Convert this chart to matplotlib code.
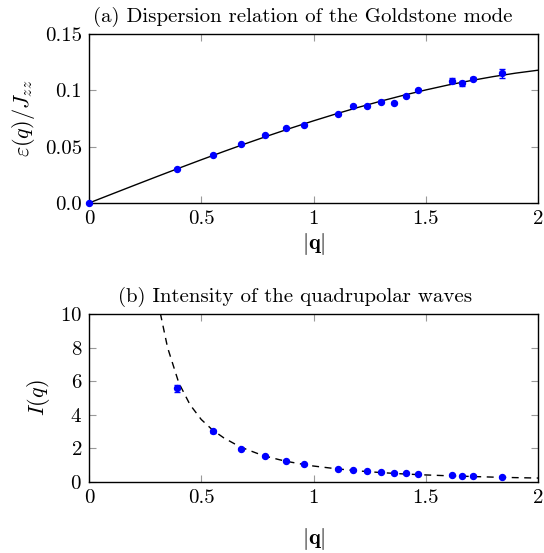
import matplotlib
matplotlib.use("Agg")
import matplotlib.pyplot as plt

plt.rcParams['font.family'] = 'serif'
plt.rcParams['font.serif'] = ['cmr10', 'DejaVu Serif']
plt.rcParams['mathtext.fontset'] = 'cm'
plt.rcParams['axes.unicode_minus'] = False
plt.rcParams['axes.formatter.use_mathtext'] = True

# measured momenta
q = [0.39, 0.554, 0.678, 0.782, 0.876, 0.959, 1.108, 1.176, 1.240, 1.300,
     1.357, 1.413, 1.467, 1.617, 1.663, 1.709, 1.840]

# (a) dispersion: data (first point at q=0)
q_eps = [0.0] + q
eps = [0.0, 0.0304, 0.0426, 0.0521, 0.0601, 0.0663, 0.0695, 0.0787, 0.0858,
       0.0864, 0.0899, 0.0888, 0.0950, 0.1003, 0.1086, 0.1062, 0.1103, 0.1151]
eps_err = [0.0, 0.0004, 0.0005, 0.0005, 0.0005, 0.0005, 0.0005, 0.0006, 0.0008,
           0.0008, 0.0015, 0.0006, 0.0010, 0.0008, 0.0020, 0.0022, 0.0015, 0.0040]

# (a) fitted dispersion curve
q_fit = [0.0, 0.1, 0.2, 0.3, 0.4, 0.5, 0.6, 0.7, 0.8, 0.9, 1.0,
         1.1, 1.2, 1.3, 1.4, 1.5, 1.6, 1.7, 1.8, 1.9, 2.0]
eps_fit = [0.0, 0.00779, 0.01556, 0.02326, 0.03087, 0.03836, 0.04569, 0.05285,
           0.05980, 0.06650, 0.07294, 0.07908, 0.08493, 0.09042, 0.09559,
           0.10035, 0.10476, 0.10863, 0.11218, 0.11526, 0.11787]

# (b) intensity
inten = [5.58, 3.02, 1.96, 1.54, 1.25, 1.05, 0.79, 0.71, 0.63, 0.59, 0.56,
         0.52, 0.48, 0.40, 0.38, 0.37, 0.32]
inten_err = [0.20, 0.08, 0.06, 0.04, 0.03, 0.03, 0.02, 0.02, 0.02, 0.02, 0.02,
             0.02, 0.02, 0.02, 0.02, 0.02, 0.02]

# (b) guide curve
q_guide = [0.30, 0.32, 0.35, 0.40, 0.45, 0.50, 0.55, 0.60, 0.65, 0.70, 0.75,
           0.80, 0.85, 0.90, 0.95, 1.0, 1.1, 1.2, 1.3, 1.4, 1.5, 1.6, 1.7,
           1.8, 1.9, 2.0]
i_guide = [11.5, 9.9, 8.0, 5.9, 4.6, 3.72, 3.10, 2.63, 2.26, 1.95, 1.70,
           1.49, 1.32, 1.18, 1.06, 0.95, 0.79, 0.66, 0.56, 0.48, 0.42, 0.37,
           0.33, 0.29, 0.26, 0.235]

fig = plt.figure(figsize=(5.44, 5.53), dpi=100)
ax1 = fig.add_axes([0.1636, 0.6329, 0.8254, 0.3056])
ax2 = fig.add_axes([0.1636, 0.1284, 0.8254, 0.3038])

blue = (0, 0, 1)
tick_kw = dict(direction='in', length=5, width=0.8, color='0.6',
               top=True, right=True, labelsize=15, labelcolor='black', pad=5)

# (a)
ax1.plot(q_fit, eps_fit, color='black', lw=1.0, zorder=2)
ax1.errorbar(q_eps, eps, yerr=eps_err, fmt='o', color=blue, ms=4.3,
             elinewidth=1.0, capsize=2, capthick=1.0, zorder=3, clip_on=False)
ax1.set_xlim(0, 2)
ax1.set_ylim(0, 0.15)
ax1.set_xticks([0, 0.5, 1, 1.5, 2])
ax1.set_xticklabels(['0', '0.5', '1', '1.5', '2'])
ax1.set_yticks([0, 0.05, 0.1, 0.15])
ax1.set_yticklabels(['0.0', '0.05', '0.1', '0.15'])
ax1.tick_params(**tick_kw)
ax1.set_xlabel(r'$|\mathbf{q}|$', fontsize=16, labelpad=2)
ax1.set_ylabel(r'$\varepsilon(q)/J_{zz}$', fontsize=16, labelpad=6)
ax1.set_title('(a) Dispersion relation of the Goldstone mode', fontsize=15,
              pad=9, x=0.477)

# (b)
ax2.plot(q_guide, i_guide, color='black', lw=1.0, dashes=(5, 4), zorder=2)
ax2.errorbar(q, inten, yerr=inten_err, fmt='o', color=blue, ms=4.3,
             elinewidth=1.0, capsize=2, capthick=1.0, zorder=3)
ax2.set_xlim(0, 2)
ax2.set_ylim(0, 10)
ax2.set_xticks([0, 0.5, 1, 1.5, 2])
ax2.set_xticklabels(['0', '0.5', '1', '1.5', '2'])
ax2.set_yticks([0, 2, 4, 6, 8, 10])
ax2.tick_params(**tick_kw)
ax2.set_xlabel(r'$|\mathbf{q}|$', fontsize=16, labelpad=14)
ax2.set_ylabel(r'$I(q)$', fontsize=16, labelpad=6)
ax2.set_title('(b) Intensity of the quadrupolar waves', fontsize=15,
              pad=8.5, x=0.459)

for ax in (ax1, ax2):
    for s in ax.spines.values():
        s.set_linewidth(1.0)

fig.savefig('out.png', dpi=100)
